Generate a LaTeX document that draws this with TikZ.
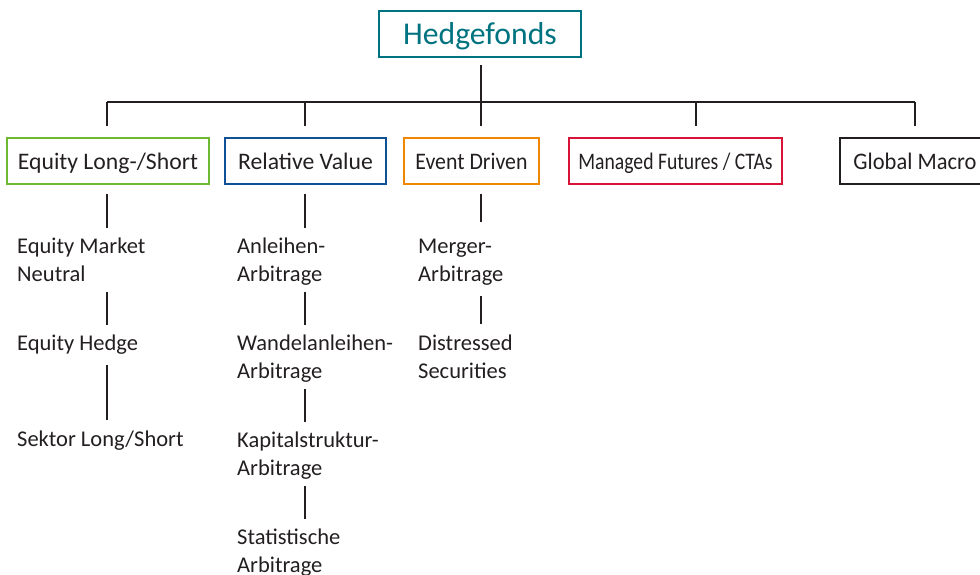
\documentclass[tikz,border=0pt]{standalone}
\usepackage{fontspec}
\setmainfont{Carlito}
\definecolor{hfteal}{RGB}{0,115,128}
\definecolor{eqgreen}{RGB}{110,185,50}
\definecolor{rvblue}{RGB}{15,80,150}
\definecolor{edorange}{RGB}{240,135,0}
\definecolor{mfred}{RGB}{215,20,55}
\definecolor{txtdark}{RGB}{35,31,32}
\tikzset{
  catbox/.style={draw, line width=1.6pt, minimum height=46pt, inner sep=0pt, text=txtdark,
    text height=22pt, text depth=4pt,
    font=\fontsize{23.7}{28}\selectfont},
  subitem/.style={anchor=north west, inner sep=0pt, align=left, text=txtdark,
    font=\fontsize{22.5}{28}\selectfont},
  conn/.style={line width=1.3pt, draw=txtdark},
  vlink/.style={conn, shorten <=2pt, shorten >=5pt},
  vfirst/.style={conn, shorten <=9pt, shorten >=5pt}
}
\begin{document}
\begin{tikzpicture}[x=1pt, y=-1pt]
\useasboundingbox (0,0) rectangle (980,575);
\clip (0,0) rectangle (980,575);
% root
\node[draw=hfteal, line width=1.7pt, minimum width=202pt, minimum height=46pt, inner sep=0pt,
  text height=28pt, text depth=6pt,
  text=hfteal, font=\fontsize{31.7}{36}\selectfont] (hf) at (480,34) {Hedgefonds};
% categories
\node[catbox, draw=eqgreen, minimum width=202pt] (eq) at (108,161) {Equity Long-/Short};
\node[catbox, draw=rvblue, minimum width=161pt] (rv) at (305.5,161) {Relative Value};
\node[catbox, draw=edorange, minimum width=135pt] (ed) at (471.5,161) {\scalebox{0.92}[1]{Event Driven}};
\node[catbox, draw=mfred, minimum width=213pt] (mf) at (675.5,161) {\scalebox{0.83}[1]{Managed Futures / CTAs}};
\node[catbox, draw=txtdark, minimum width=150pt] (gm) at (915,161) {\scalebox{0.95}[1]{Global Macro}};
% junctions on the bar
\coordinate (h1) at (107,102);
\coordinate (h2) at (305,102);
\coordinate (h3) at (481,102);
\coordinate (h4) at (696,102);
\coordinate (h5) at (915,102);
% tree
\draw[conn, shorten <=7pt] (hf.south -| h3) -- (h3);
\draw[conn] (h1) -- (h5);
\draw[conn, shorten >=11pt] (h1) -- (h1 |- eq.north);
\draw[conn, shorten >=11pt] (h2) -- (h2 |- rv.north);
\draw[conn, shorten >=11pt] (h3) -- (h3 |- ed.north);
\draw[conn, shorten >=11pt] (h4) -- (h4 |- mf.north);
\draw[conn, shorten >=11pt] (h5) -- (h5 |- gm.north);
% column 1
\node[subitem] (em) at (17,233.4) {\strut Equity Market\\Neutral\strut};
\node[subitem] (eh) at (17,330.4) {\strut Equity Hedge\strut};
\node[subitem] (sk) at (17,426.4) {\strut Sektor Long/Short\strut};
% column 2
\node[subitem] (an) at (237,233.4) {\strut Anleihen-\\Arbitrage\strut};
\node[subitem] (wa) at (237,330.4) {\strut Wandelanleihen-\\Arbitrage\strut};
\node[subitem] (ka) at (237,427.4) {\strut Kapitalstruktur-\\Arbitrage\strut};
\node[subitem] (st) at (237,524.4) {\strut Statistische\\Arbitrage\strut};
% column 3
\node[subitem] (me) at (418,233.4) {\strut Merger-\\Arbitrage\strut};
\node[subitem] (di) at (418,330.4) {\strut Distressed\\Securities\strut};
% sub links
\draw[vfirst] (eq.south -| h1) -- (em.north -| h1);
\draw[vlink] (em.south -| h1) -- (eh.north -| h1);
\draw[conn, shorten <=6pt, shorten >=6pt] (eh.south -| h1) -- (sk.north -| h1);
\draw[vfirst] (rv.south -| h2) -- (an.north -| h2);
\draw[vlink] (an.south -| h2) -- (wa.north -| h2);
\draw[vlink] (wa.south -| h2) -- (ka.north -| h2);
\draw[vlink] (ka.south -| h2) -- (st.north -| h2);
\draw[conn, shorten <=9pt, shorten >=11pt] (ed.south -| h3) -- (me.north -| h3);
\draw[conn, shorten <=6pt, shorten >=6pt] (me.south -| h3) -- (di.north -| h3);
\end{tikzpicture}
\end{document}
